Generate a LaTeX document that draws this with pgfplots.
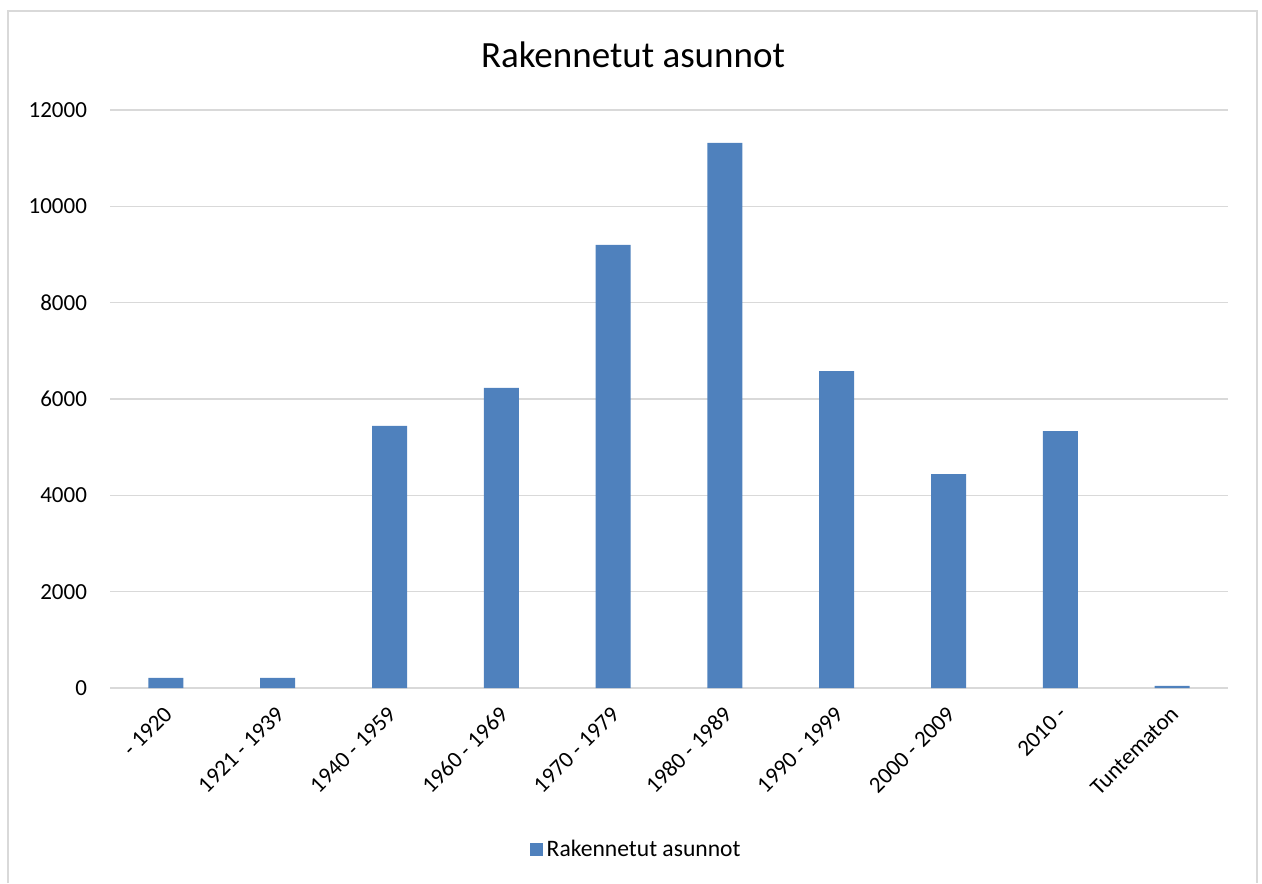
\documentclass[border=0pt]{standalone}
\usepackage{fontspec}
\setmainfont{Carlito}
\usepackage{pgfplots}
\pgfplotsset{compat=1.18}
\definecolor{barblue}{HTML}{4F81BD}
\definecolor{gridgray}{HTML}{D9D9D9}
\begin{document}
\begin{tikzpicture}
% frame of chart area (1 px = 0.5pt)
\path (0pt,0pt) rectangle (631pt,440.5pt);
\draw[gridgray, line width=0.8pt] (4pt,-1pt) -- (4pt,435pt) -- (628.5pt,435pt) -- (628.5pt,-1pt);
\node[font=\fontsize{18.5}{22}\selectfont] at (316.5pt,413pt) {Rakennetut asunnot};
\begin{axis}[
    at={(55pt,96.5pt)}, anchor=south west,
    scale only axis,
    width=559pt, height=289pt,
    ybar, bar width=17.5pt,
    xmin=-0.5, xmax=9.5,
    ymin=0, ymax=12000,
    ytick={0,2000,4000,6000,8000,10000,12000},
    scaled y ticks=false,
    xtick=data,
    xticklabels={- 1920,1921 - 1939,1940 - 1959,1960 - 1969,1970 - 1979,1980 - 1989,1990 - 1999,2000 - 2009,2010 -,Tuntematon},
    x tick label style={font=\fontsize{11.5}{13}\selectfont, inner sep=1pt, xshift=-1.5pt, yshift=-7pt, rotate=45, anchor=north east},
    y tick label style={font=\fontsize{11.5}{13}\selectfont, xshift=-8pt},
    /pgf/number format/1000 sep={},
    /pgf/number format/assume math mode=true,
    ymajorgrids, grid style={gridgray, line width=0.8pt},
    axis x line*=bottom, axis y line*=left,
    x axis line style={gridgray, line width=0.8pt, -},
    y axis line style={draw=none},
    major tick length=0pt,
    legend style={at={(axis description cs:0.4714,-0.28)}, anchor=center, draw=none,
        font=\fontsize{11.8}{13}\selectfont},
    legend image code/.code={\fill[barblue] (0pt,-3.3pt) rectangle (6.6pt,3.3pt);},
]
\addplot[fill=barblue, draw=none] coordinates {
    (0,210) (1,210) (2,5440) (3,6230) (4,9200) (5,11320) (6,6580) (7,4440) (8,5335) (9,45)
};
\addlegendentry{Rakennetut asunnot}
\end{axis}
\end{tikzpicture}
\end{document}
